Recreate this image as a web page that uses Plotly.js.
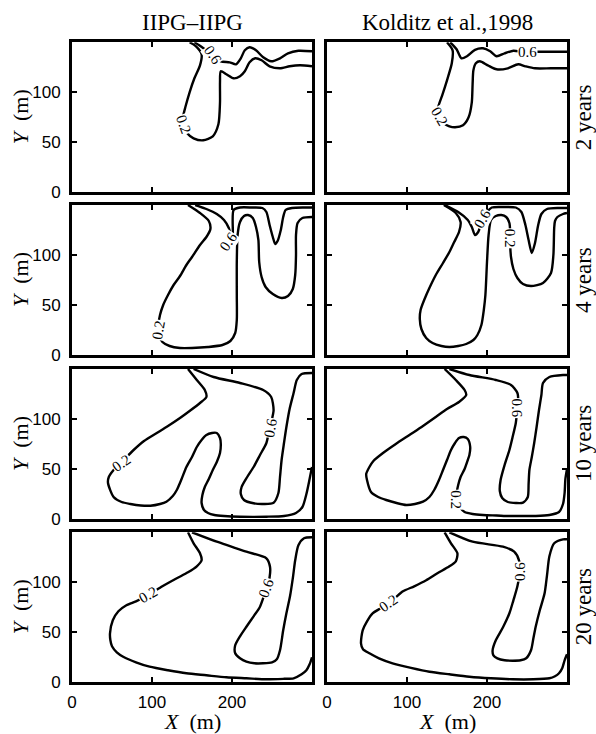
<!DOCTYPE html>
<html>
<head>
<meta charset="utf-8">
<script src="https://cdn.plot.ly/plotly-3.0.1.min.js"></script>
<style>html,body{margin:0;padding:0;background:#fff;}#chart{width:596px;height:734px;}</style>
</head>
<body>
<div id="chart"></div>
<script>
// ---------- DATA ----------
const colTitles = ['IIPG\u2013IIPG', 'Kolditz et al.,1998'];
const rowTitles = ['2 years', '4 years', '10 years', '20 years'];
const xTicks = [0, 100, 200];
const yTicks = [0, 50, 100];
const levels = ['0.2', '0.6'];

// IIPG, 2 years
const iipg2_c02_x = [147,155,162,160,153,147,142,139,140,144,152,164,176,183,185,185,186,193,202,210,216,222,229,237,247,260,272,285,300];
const iipg2_c02_y = [150,146,138,127,114,100,86,76,66,59,54,52,56,68,90,110,121,118,114,116,121,130,134,132,126,124,126,127,126];
const iipg2_c06_x = [153,159,166,176,186,197,205,211,216,222,230,239,249,260,270,283,300];
const iipg2_c06_y = [150,147,143,137,131,130,128,134,142,145,142,135,131,134,139,141.5,141];
// Kolditz, 2 years
const kol2_c02_x = [150,157,156,150,144,140,138,140,146,153,160,170,177,181,182,183,186,191,201,212,226,239,248,260,280,300];
const kol2_c02_y = [150,142,129,112,97,88,82,75,69,66,65,67,75,90,108,122,129,131,127,123,124,128,126,124,124,124];
const kol2_c06_x = [154,162,168,175,185,195,204,212,222,233,245,258,268,285,300];
const kol2_c06_y = [150,143,134,136,142.5,144,141,136,139,141.5,140.5,140.5,140.5,140.5,140.5];
// IIPG, 4 years
const iipg4_c02_x = [145,160,171,173,168,160,150,143,135,127,120,114,110,108,109,113,122,135,150,170,188,198,204,206,206,206,207,210,215,220,226,230,233,234,237,242,251,262,270,276,279,280,280,282,288,300];
const iipg4_c02_y = [150,142,134,126,118,110,98,90,79,70,60,50,40,30,20,13,9,7,7,8,10,14,22,35,60,93,120,133,139,140,137,128,115,93,78,68,61,57,59,66,80,100,120,132,137,138];
const iipg4_c06_x = [154,168,181,190,196,198,197,199,201,202,210,225,238,243,247,251,254,257,261,264,267,275,290,300];
const iipg4_c06_y = [150,146,141,135,127,119,111,110,120,145,147.5,147.5,147,143,130,118,111,114,125,138,145,147,147.5,147.5];
// Kolditz, 4 years
const kol4_c02_x = [146,161,167,165,159,153,145,136,128,122,117,116,118,124,132,143,153,164,174,183,188,193,196,198,200,202,205,211,218,224,228,229,229,230,233,238,245,255,270,280,283,284,285,288,295,300];
const kol4_c02_y = [150,142,133,123,113,103,92,80,67,56,45,36,26,17,12,9,8,9,11,15,20,30,45,60,93,120,135,139,140,138,132,122,110,98,86,77,71,69,72,82,100,127,134,138,141,142];
const kol4_c06_x = [147,164,176,181,185,189,194,200,206,220,236,243,248,252,256,260,264,268,275,290,300];
const kol4_c06_y = [150,143,135,128,120,123,134,143,147.5,148,147.5,143,130,115,102,112,130,141,146,147,147];
// IIPG, 10 years
const iipg10_c02_x = [145,156,166,168,160,147,135,120,106,90,77,62,52,46,45,52,62,73,86,98,110,118,126,131,137,143,150,156,162,168,175,181,185,186,185,181,176,171,166,163,162,165,170,178,190,210,243,265,280,288,293,297,300];
const iipg10_c02_y = [150,139,129,122,116,108,101,93,86,78,69,57,49,42,36,22,17,15,13.5,13.3,15,17.3,23,29,40,52,62,72,79,84,86,86,81,75,66,57,49,40,32,24,16,9,6,4,3,2.3,2.3,3,6,12,25,40,52];
const iipg10_c06_x = [152,177,210,239,249,252,250,247,243,235,227,219,212,211,215,227,240,252,258,260,262,265,268,272,277,281,287,300];
const iipg10_c06_y = [150,142,136,129,122,109,100,91,76,64,52,42,32,25,19,15.7,15,16.3,26,42,59,76,92,110,126,139,145,146];
// Kolditz, 10 years
const kol10_c02_x = [147,161,172,174,165,150,136,120,103,86,70,58,53,49,50,55,64,74,87,99,110,120,128,134,140,145,150,155,160,165,171,176,179,178,176,172,167,164,162,163,167,172,182,195,212,228,245,261,278,290,295,297,298,300];
const kol10_c02_y = [150,139,129,124,117,110,102,93,84,75,66,58,52,45,39,27,22,19,16,14,15,17.3,22,29,39,49,59,69,76,81,82,80,72,64,59,50,42,34,25,18,11,7,5,4,3.5,3,3,3,4,7,15,26,40,50];
const kol10_c06_x = [153,178,211,230,238,239,238,236,232,228,222,217,216,219,226,236,245,251,252,253,256,259,262,265,268,270,278,295,300];
const kol10_c06_y = [150,144,139,134,126,118,111,96,82,69,54,39,28,21,17,16,16.3,22,35,49,62,76,92,109,124,136,142,144,144];
// IIPG, 20 years
const iipg20_c02_x = [145,152,160,162,156,145,131,113,95,80,68,58,51,47.5,48,50,56,64,80,97,120,143,168,193,218,243,265,277,287,293,297,300];
const iipg20_c02_y = [150,139,129,122,116,110,104,96,87,81,77,71,62,49,42,36,30,25.6,20,15.6,12,9,7,5,4,3,3.5,4,8,12,18,25];
const iipg20_c06_x = [150,181,218,243,247.5,247,243,235,227,218,210,204,204,210,218,228,239,250,256,260,264,268,272.5,276,279,283,290,300];
const iipg20_c06_y = [150,140.6,130.6,124,115.6,105,94,75.6,66,55.6,46,37,29,24,20.6,19,19,20,23,32,52,69,86,104,122,137,144,145];
// Kolditz, 20 years
const kol20_c02_x = [147,155,163,161,153,138,124,109,95,86,77,67,57,50,44.6,42.5,45,53,65,82,105,128,153,178,205,232,258,278,285,290,294,297,300];
const kol20_c02_y = [150,139,129,121,116,109,102,96,91,85,79,74,69,61,52,39,33,29,24,19,14.5,10.6,8,5.6,4,3,3,4,6,9,14,22,28];
const kol20_c06_x = [153,182,220,234,240,241,238,233,228,220,211,207,208,213,222,232,242,249,255,258,261,266,272,275,278,284,295,300];
const kol20_c06_y = [150,140.6,135.6,130.6,122,111,96,82,69,55,42,32,27,24,22,21.6,22,24,32,44,56,72,89,107,126,139,143,143];

// inline contour labels: [x, y] per panel, for levels 0.2 and 0.6
const label02_x = [139, 140, 108, 229, 62, 161, 95, 77];
const label02_y = [68, 76, 25, 117, 56, 19, 87, 79];
const label06_x = [176, 251, 195, 194, 248, 238, 243, 241];
const label06_y = [137, 140.5, 113, 136, 91, 111, 94, 111];

// ---------- BUILD ----------
const panels = [
  [[iipg2_c02_x, iipg2_c02_y], [iipg2_c06_x, iipg2_c06_y]],
  [[kol2_c02_x, kol2_c02_y], [kol2_c06_x, kol2_c06_y]],
  [[iipg4_c02_x, iipg4_c02_y], [iipg4_c06_x, iipg4_c06_y]],
  [[kol4_c02_x, kol4_c02_y], [kol4_c06_x, kol4_c06_y]],
  [[iipg10_c02_x, iipg10_c02_y], [iipg10_c06_x, iipg10_c06_y]],
  [[kol10_c02_x, kol10_c02_y], [kol10_c06_x, kol10_c06_y]],
  [[iipg20_c02_x, iipg20_c02_y], [iipg20_c06_x, iipg20_c06_y]],
  [[kol20_c02_x, kol20_c02_y], [kol20_c06_x, kol20_c06_y]]
];
const angle02 = [70, 60, -80, 90, -35, 90, -30, -35];
const angle06 = [55, 0, -55, -60, -80, 90, -70, -90];

const W = 596, H = 734;
const colPx = [[72, 312], [327, 567]];
const rowPx = [[42.3, 192.3], [205, 355], [369, 519], [532.3, 682.3]];
const SERIF = 'Liberation Serif, Times New Roman, serif';
const SANS = 'Liberation Sans, Arial, sans-serif';

const traces = [];
const layout = {
  width: W, height: H, autosize: false,
  margin: {l: 0, r: 0, t: 0, b: 0},
  paper_bgcolor: '#fff', plot_bgcolor: '#fff',
  showlegend: false,
  font: {family: SANS, color: '#000'},
  annotations: []
};

panels.forEach((p, i) => {
  const r = Math.floor(i / 2), c = i % 2;
  const n = i + 1, s = n === 1 ? '' : String(n);
  const axCommon = {
    showline: true, linewidth: 3, linecolor: '#000', mirror: 'ticks',
    ticks: 'inside', ticklen: 5, tickwidth: 2, tickcolor: '#000',
    showgrid: false, zeroline: false, fixedrange: true,
    tickfont: {family: SANS, size: 17, color: '#000'}
  };
  layout['xaxis' + s] = Object.assign({}, axCommon, {
    domain: [colPx[c][0] / W, colPx[c][1] / W], anchor: 'y' + s,
    range: [0, 300], tickvals: xTicks, ticktext: xTicks.map(String),
    showticklabels: r === 3, ticklabelstandoff: 2
  });
  layout['yaxis' + s] = Object.assign({}, axCommon, {
    domain: [1 - rowPx[r][1] / H, 1 - rowPx[r][0] / H], anchor: 'x' + s,
    range: [0, 150], tickvals: yTicks, ticktext: yTicks.map(String),
    showticklabels: c === 0, ticklabelstandoff: 5
  });
  p.forEach(([xs, ys]) => {
    traces.push({
      x: xs, y: ys, xaxis: 'x' + s, yaxis: 'y' + s, type: 'scatter', mode: 'lines',
      line: {color: '#000', width: 2.4, shape: 'spline', smoothing: 0.7},
      hoverinfo: 'skip', showlegend: false
    });
  });
  [[label02_x[i], label02_y[i], levels[0], angle02[i]], [label06_x[i], label06_y[i], levels[1], angle06[i]]].forEach(([lx, ly, t, a]) => {
    layout.annotations.push({
      xref: 'x' + s, yref: 'y' + s, x: lx, y: ly, text: t, showarrow: false,
      xanchor: 'center', yanchor: 'middle',
      textangle: a, bgcolor: '#fff', borderpad: 0,
      font: {family: SERIF, size: 15, color: '#000'}
    });
  });
});

function paperText(t, pxX, pxY, size, angle) {
  layout.annotations.push({xref: 'paper', yref: 'paper', x: pxX / W, y: 1 - pxY / H,
    xanchor: 'center', yanchor: 'middle', text: t, showarrow: false,
    textangle: angle || 0, font: {family: SERIF, size: size, color: '#000'}});
}
colTitles.forEach((t, c) => {
  const cx = (colPx[c][0] + colPx[c][1]) / 2;
  paperText(t, cx, 22, 23, 0);
  paperText('<i>X</i>  (m)', cx, 721, 22, 0);
});
rowTitles.forEach((t, r) => {
  const cy = (rowPx[r][0] + rowPx[r][1]) / 2;
  paperText(t, 583, cy, 23, -90);
  paperText('<i>Y</i>  (m)', 20, cy, 22, -90);
});

Plotly.newPlot('chart', traces, layout, {staticPlot: true, displayModeBar: false});
</script>
</body>
</html>
